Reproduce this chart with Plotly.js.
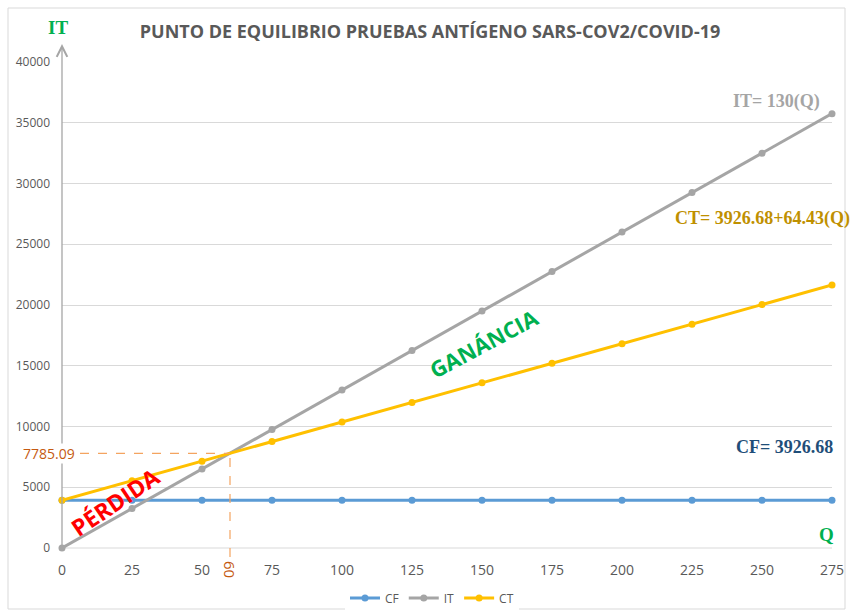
<!DOCTYPE html>
<html>
<head>
<meta charset="utf-8">
<script src="https://cdn.plot.ly/plotly-3.0.1.min.js"></script>
<style>html,body{margin:0;padding:0;background:#fff;}#chart{width:851px;height:614px;}</style>
</head>
<body>
<div id="chart"></div>
<script>
// ---- data ----
const quantities = [0, 25, 50, 75, 100, 125, 150, 175, 200, 225, 250, 275];
const cfValues = [3926.68, 3926.68, 3926.68, 3926.68, 3926.68, 3926.68, 3926.68, 3926.68, 3926.68, 3926.68, 3926.68, 3926.68];
const itValues = [0, 3250, 6500, 9750, 13000, 16250, 19500, 22750, 26000, 29250, 32500, 35750];
const ctValues = [3926.68, 5537.43, 7148.18, 8758.93, 10369.68, 11980.43, 13591.18, 15201.93, 16812.68, 18423.43, 20034.18, 21644.93];
const seriesNames = ["CF", "IT", "CT"];
const yTicks = [0, 5000, 10000, 15000, 20000, 25000, 30000, 35000, 40000];
const breakEvenQ = [60];
const breakEvenValue = [7785.09];
const chartTitle = "PUNTO DE EQUILIBRIO PRUEBAS ANTÍGENO SARS-COV2/COVID-19";
const formulaLabels = ["IT= 130(Q)", "CT= 3926.68+64.43(Q)", "CF= 3926.68"];
const zoneLabels = ["GANÁNCIA", "PÉRDIDA"];
const axisLabels = ["IT", "Q"];

// ---- layout geometry ----
const W = 851, H = 614;
const L = 62, R = 19, T = 62, B = 66;
const pw = W - L - R, ph = H - T - B;
const yMax = 40000, xMax = 275;
const px = p => (p - L) / pw;          // pixel x -> paper
const py = p => (H - B - p) / ph;      // pixel y -> paper

const colors = ["#5B9BD5", "#A5A5A5", "#FFC000"];
const vals = [cfValues, itValues, ctValues];
const traces = vals.map((v, i) => ({
  type: "scatter", mode: "lines+markers", name: seriesNames[i],
  x: quantities, y: v,
  line: {color: colors[i], width: 3},
  marker: {color: colors[i], size: 7},
  cliponaxis: false
}));

const serif = "Liberation Serif, Times New Roman, serif";
const sans = "Open Sans, Liberation Sans, sans-serif";
const orange = "#C55A11";

const layout = {
  width: W, height: H,
  margin: {l: L, r: R, t: T, b: B, autoexpand: false},
  paper_bgcolor: "#fff", plot_bgcolor: "#fff",
  title: {text: "<b>" + chartTitle + "</b>", x: 430 / W, xanchor: "center", y: 1 - 32 / H, yanchor: "middle",
          font: {family: sans, size: 18, color: "#595959"}},
  showlegend: true,
  legend: {orientation: "h", x: px(432), xanchor: "center", y: py(598), yanchor: "middle",
           font: {family: sans, size: 12, color: "#595959"}, tracegroupgap: 0},
  xaxis: {range: [0, xMax], tickvals: quantities, ticktext: quantities.map(String),
          showgrid: false, zeroline: false, showline: false, ticks: "", ticklabelstandoff: 12,
          tickfont: {family: sans, size: 14, color: "#595959"}, fixedrange: true},
  yaxis: {range: [0, yMax], tickvals: yTicks, ticktext: yTicks.map(String),
          showgrid: true, gridcolor: "#D9D9D9", gridwidth: 1, zeroline: false,
          showline: false, ticks: "", ticklabelstandoff: 11,
          tickfont: {family: sans, size: 12, color: "#595959"}, fixedrange: true},
  shapes: [
    {type: "rect", xref: "paper", yref: "paper", x0: px(8), x1: px(845), y0: py(609), y1: py(8),
     line: {color: "#D9D9D9", width: 1}, layer: "below"},
    {type: "line", xref: "paper", yref: "paper", x0: 0, x1: 1, y0: 0, y1: 0,
     line: {color: "#D9D9D9", width: 1}, layer: "below"},
    {type: "line", xref: "x", yref: "y", x0: 0, x1: breakEvenQ[0], y0: breakEvenValue[0], y1: breakEvenValue[0],
     line: {color: "#F4A460", width: 1.2, dash: "dash"}, layer: "above"},
    {type: "line", xref: "x", yref: "paper", x0: breakEvenQ[0], x1: breakEvenQ[0], y0: py(557), y1: breakEvenValue[0] / yMax,
     line: {color: "#F4A460", width: 1.2, dash: "dash"}, layer: "above"}
  ],
  annotations: [
    // y-axis arrow
    {xref: "paper", yref: "paper", x: 0, y: py(44), ax: 0, ay: 504, axref: "pixel", ayref: "pixel",
     text: "", showarrow: true, arrowhead: 5, arrowsize: 1.6, arrowwidth: 1.3, arrowcolor: "#A6A6A6"},
    {xref: "paper", yref: "paper", x: px(58), y: py(28), text: "<b>" + axisLabels[0] + "</b>", showarrow: false,
     font: {family: serif, size: 19, color: "#00B050"}, xanchor: "center", yanchor: "middle"},
    {xref: "paper", yref: "paper", x: px(826), y: py(534), text: "<b>" + axisLabels[1] + "</b>", showarrow: false,
     font: {family: serif, size: 19, color: "#00B050"}, xanchor: "center", yanchor: "middle"},
    {xref: "paper", yref: "paper", x: px(822), y: py(102), text: "<b>" + formulaLabels[0] + "</b>", showarrow: false,
     font: {family: serif, size: 18, color: "#A5A5A5"}, xanchor: "right", yanchor: "middle"},
    {xref: "paper", yref: "paper", x: px(852), y: py(218), text: "<b>" + formulaLabels[1] + "</b>", showarrow: false,
     font: {family: serif, size: 18, color: "#BF9000"}, xanchor: "right", yanchor: "middle"},
    {xref: "paper", yref: "paper", x: px(835), y: py(447), text: "<b>" + formulaLabels[2] + "</b>", showarrow: false,
     font: {family: serif, size: 18, color: "#1F4E79"}, xanchor: "right", yanchor: "middle"},
    {xref: "paper", yref: "paper", x: px(484), y: py(343), text: "<b>" + zoneLabels[0] + "</b>", showarrow: false,
     textangle: -28, font: {family: sans, size: 22, color: "#00B050"}, xanchor: "center", yanchor: "middle"},
    {xref: "paper", yref: "paper", x: px(115), y: py(502), text: "<b>" + zoneLabels[1] + "</b>", showarrow: false,
     textangle: -34, font: {family: sans, size: 23, color: "#FF0000"}, xanchor: "center", yanchor: "middle"},
    {xref: "paper", yref: "y", x: px(76), y: breakEvenValue[0], text: breakEvenValue[0].toFixed(2), showarrow: false,
     font: {family: sans, size: 14, color: orange}, xanchor: "right", yanchor: "middle", bgcolor: "#fff", borderpad: 0},
    {xref: "x", yref: "paper", x: breakEvenQ[0], y: py(569), text: String(breakEvenQ[0]), showarrow: false,
     textangle: 90, font: {family: sans, size: 15, color: orange}, xanchor: "center", yanchor: "middle", bgcolor: "#fff", borderpad: 0}
  ]
};

Plotly.newPlot("chart", traces, layout, {displayModeBar: false, staticPlot: true});
</script>
</body>
</html>
